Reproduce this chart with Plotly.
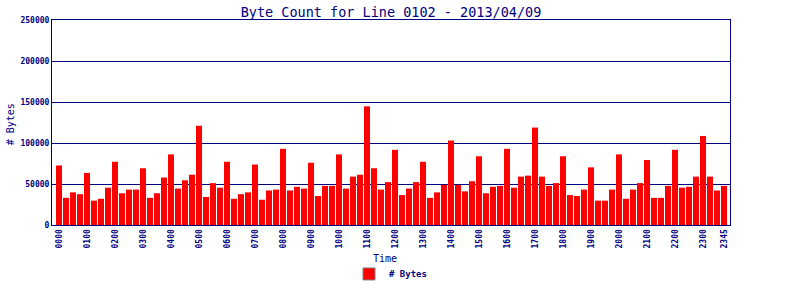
import plotly.graph_objects as go

title = "Byte Count for Line 0102 - 2013/04/09"

# 96 quarter-hour slots, 0000..2345
times = [f"{h:02d}{m:02d}" for h in range(24) for m in (0, 15, 30, 45)]

byte_counts = [
    72600, 33100, 39800, 37600, 63500, 29700, 32000, 45500,
    77100, 38700, 43200, 43200, 69200, 33100, 38700, 57900,
    86100, 44400, 54500, 61300, 121000, 34200, 51100, 45500,
    77100, 32000, 37600, 39800, 73700, 30800, 42100, 43200,
    92900, 42100, 46600, 44400, 75900, 35300, 47700, 47700,
    86100, 44400, 59000, 61300, 144700, 69200, 43200, 52300,
    91700, 36500, 44400, 52300, 77100, 33100, 39800, 48900,
    103000, 48900, 41000, 53400, 83800, 38700, 46600, 47700,
    92900, 45500, 59000, 60200, 118800, 59000, 47700, 51100,
    83800, 36500, 35300, 43200, 70300, 29700, 29700, 43200,
    86100, 32000, 43200, 51100, 79300, 33100, 33100, 47700,
    91700, 45500, 46600, 59000, 108600, 59000, 42100, 47700,
]

tick_labels = [f"{h:02d}00" for h in range(24)] + ["2345"]
tick_index = [times.index(t) for t in tick_labels]
y_ticks = [0, 50000, 100000, 150000, 200000, 250000]

NAVY = "#000080"
FONT = "DejaVu Sans Mono"

x_idx = list(range(len(times)))

fig = go.Figure()
fig.add_trace(go.Bar(
    x=x_idx, y=byte_counts, width=0.86,
    marker=dict(color="#FF0000", line=dict(width=0)),
    showlegend=False, name="# Bytes",
    customdata=times, hovertemplate="%{customdata}: %{y}<extra></extra>",
))
# legend entry
fig.add_trace(go.Bar(
    x=[None], y=[None], name="# Bytes",
    marker=dict(color="#FF0000", line=dict(color="#808080", width=1)),
    showlegend=True,
))

fig.update_layout(
    width=800, height=300,
    margin=dict(l=52, r=70, t=20, b=58),
    paper_bgcolor="white", plot_bgcolor="white",
    barmode="overlay",
    title=dict(text=title, x=391/800, xanchor="center", y=1-12.5/300,
               yanchor="middle", yref="container",
               font=dict(family=FONT, size=13.5, color=NAVY)),
    showlegend=True,
    legend=dict(orientation="h", x=(349-52)/678, xanchor="left",
                y=(242-295)/222, yanchor="middle",
                font=dict(family=FONT, size=9, color=NAVY, weight="bold"),
                itemwidth=30, bgcolor="rgba(0,0,0,0)"),
    font=dict(family=FONT, color=NAVY),
)

fig.update_xaxes(
    range=[-1, 95.86], tickmode="array", tickvals=tick_index, ticktext=tick_labels,
    tickangle=-90, tickfont=dict(family=FONT, size=8, color=NAVY, weight="bold"),
    showgrid=False, zeroline=False, showline=True, linecolor=NAVY, linewidth=1,
    mirror=True, ticks="", ticklen=0,
)
fig.update_yaxes(
    range=[0, 250000], tickmode="array", tickvals=y_ticks,
    ticktext=[str(v) for v in y_ticks],
    tickfont=dict(family=FONT, size=8, color=NAVY, weight="bold"),
    showgrid=True, gridcolor=NAVY, gridwidth=1, zeroline=False,
    showline=True, linecolor=NAVY, linewidth=1, mirror=True, ticks="",
)

fig.add_annotation(text="# Bytes", xref="paper", yref="paper",
                   x=(10-52)/678, y=(242-133)/222, textangle=-90,
                   showarrow=False, xanchor="center", yanchor="middle",
                   font=dict(family=FONT, size=10, color=NAVY))
fig.add_annotation(text="Time", xref="paper", yref="paper",
                   x=(385-52)/678, y=(242-278)/222,
                   showarrow=False, xanchor="center", yanchor="middle",
                   font=dict(family=FONT, size=10, color=NAVY))

fig.write_html("out.html")
